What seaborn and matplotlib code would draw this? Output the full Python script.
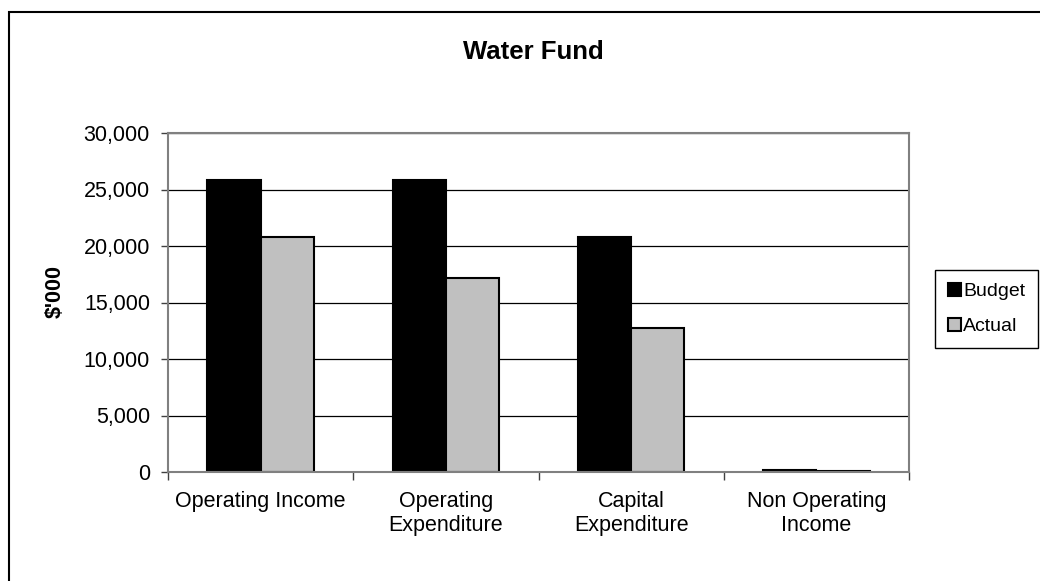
import matplotlib
matplotlib.use("Agg")
import matplotlib.pyplot as plt
from matplotlib.patches import Rectangle
from matplotlib.ticker import FuncFormatter, FixedLocator
import seaborn as sns
import pandas as pd

categories = ["Operating Income", "Operating\nExpenditure", "Capital\nExpenditure", "Non Operating\nIncome"]
budget = [25800, 25850, 20800, 150]
actual = [20800, 17150, 12750, 90]
series_names = ["Budget", "Actual"]
y_ticks = [0, 5000, 10000, 15000, 20000, 25000, 30000]

df = pd.DataFrame({
    "category": categories * 2,
    "series": [series_names[0]] * 4 + [series_names[1]] * 4,
    "value": budget + actual,
})

sns.set_theme(style="white")
plt.rcParams["font.family"] = ["Liberation Sans", "DejaVu Sans"]
plt.rcParams["text.color"] = "black"
plt.rcParams["axes.labelcolor"] = "black"
plt.rcParams["xtick.color"] = "black"
plt.rcParams["ytick.color"] = "black"

fig = plt.figure(figsize=(10.4, 5.81), dpi=100)
ax = fig.add_axes([168 / 1040, 1 - 472 / 581, (909 - 168) / 1040, (472 - 133) / 581])

sns.barplot(
    data=df, x="category", y="value", hue="series", order=categories,
    hue_order=series_names, palette={"Budget": "black", "Actual": "#c0c0c0"},
    width=0.575, gap=0, edgecolor="black", linewidth=1.5, saturation=1,
    ax=ax, legend=True,
)

ax.set_ylim(0, 30000)
ax.set_xlim(-0.5, len(categories) - 0.5)
ax.yaxis.set_major_locator(FixedLocator(y_ticks))
ax.yaxis.set_major_formatter(FuncFormatter(lambda v, p: f"{int(v):,}"))
ax.grid(axis="y", color="black", linewidth=0.9)
ax.set_axisbelow(True)

for s in ax.spines.values():
    s.set_color("#808080")
    s.set_linewidth(1.5)
    s.set_visible(True)

ax.tick_params(axis="y", which="major", direction="out", length=5, width=1,
               color="#404040", labelsize=15.5, pad=8, left=True, labelcolor="black")
ax.set_xticks(range(len(categories)))
ax.set_xticklabels(categories, fontsize=15.5, linespacing=1.15)
ax.tick_params(axis="x", which="major", length=0, pad=14, labelcolor="black")
ax.set_xticks([i - 0.5 for i in range(len(categories) + 1)], minor=True)
ax.tick_params(axis="x", which="minor", direction="out", length=6, width=1,
               color="#404040", bottom=True)
ax.set_xlabel("")
ax.set_ylabel("")

handles, labels = ax.get_legend_handles_labels()
leg = ax.legend(
    handles, labels, loc="center left",
    bbox_to_anchor=(935 / 1040, 1 - 309 / 581), bbox_transform=fig.transFigure,
    frameon=True, fancybox=False, edgecolor="black", framealpha=1,
    fontsize=14, handlelength=0.7, handleheight=0.7, handletextpad=0.1,
    labelspacing=0.9, borderpad=0.65, borderaxespad=0,
)
leg.get_frame().set_linewidth(1.0)
for t in leg.get_texts():
    t.set_color("black")

fig.text(533 / 1040, 1 - 52 / 581, "Water Fund", ha="center", va="center",
         fontsize=18.5, fontweight="bold", color="black")
fig.text(55 / 1040, 1 - 292 / 581, "$'000", ha="center", va="center",
         rotation=90, fontsize=15.5, fontweight="bold", color="black")

fig.patches.append(Rectangle((9 / 1040, -0.1), 1.2, 1 - 12 / 581 + 0.1,
                             transform=fig.transFigure, fill=False,
                             edgecolor="black", linewidth=1.5, clip_on=False))

fig.savefig("out.png", dpi=100, facecolor="white")
